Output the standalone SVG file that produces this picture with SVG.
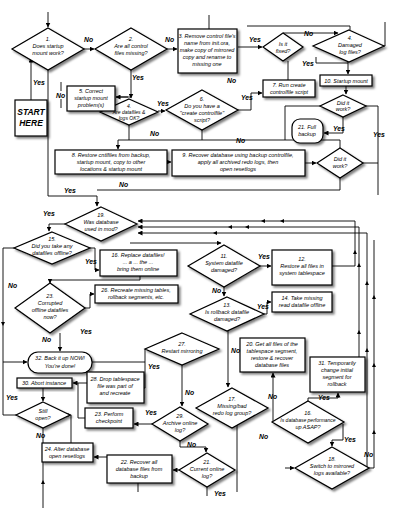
<svg xmlns="http://www.w3.org/2000/svg" width="400" height="513" viewBox="0 0 400 513">
<defs>
<filter id="sh" x="-20%" y="-20%" width="150%" height="160%"><feDropShadow dx="2" dy="2" stdDeviation="0.8" flood-color="#000" flood-opacity="0.5"/></filter>
<marker id="ah" markerWidth="5" markerHeight="5" refX="4.5" refY="2.5" orient="auto" markerUnits="userSpaceOnUse"><path d="M0,0 L5,2.5 L0,5 z" fill="#000"/></marker>
<style>
.n{fill:#fff;stroke:#000;stroke-width:1.2;filter:url(#sh)}
.t{font-family:"Liberation Sans Narrow","Liberation Sans",sans-serif;font-style:italic;font-size:5.5px;text-anchor:middle;fill:#000}
.s{font-size:5px}
.l{font-family:"Liberation Sans",sans-serif;font-style:italic;font-weight:bold;font-size:6.8px;fill:#000}
.c{fill:none;stroke:#000;stroke-width:0.9}
.a{marker-end:url(#ah)}
.tri{fill:#000}
.sb{font-family:"Liberation Sans",sans-serif;font-style:italic;font-weight:bold;font-size:8.5px;text-anchor:middle}
</style>
</defs>
<rect width="400" height="513" fill="#fff"/>
<g id="connectors">
<path class="c a" d="M48 12 V27"/>
<path class="c a" d="M84 49 H94"/>
<path class="c a" d="M167 49 H177"/>
<path class="c" d="M209 15 V29"/>
<path class="c" d="M247 26 H350 V30"/>
<path class="c a" d="M238 47 H262"/>
<path class="c a" d="M283 33 H338"/>
<path class="c" d="M383 46 H385 V22"/>
<path class="c a" d="M348 62 V74"/>
<path class="c" d="M316 57 V63 H348"/>
<path class="c a" d="M346 86 V94"/>
<path class="c" d="M288 61 V80"/>
<path class="c" d="M320 106 H285 V140"/>
<path class="c" d="M366 106 H378 V195"/>
<path class="c a" d="M343 117 V133 H324"/>
<path class="c" d="M131 70 V97 H116"/>
<path class="c a" d="M131 97 V98"/>
<path class="c a" d="M128 97 H116"/>
<path class="c" d="M61 82 V91 M61 99 V108"/>
<path class="c" d="M48 70 V196 H97"/>
<path class="c a" d="M97 196 V206"/>
<path class="c a" d="M31 100 V58"/>
<path class="c a" d="M158 111 H165"/>
<path class="c a" d="M238 110 H251 V93 H262"/>
<path class="c" d="M202 130 V140"/>
<path class="c" d="M129 125 V140"/>
<path class="c a" d="M340 148 V140 H118 V149"/>
<path class="c a" d="M167 162 H171"/>
<path class="c a" d="M305 163 H316"/>
<path class="c" d="M363 163 H378"/>
<path class="c" d="M340 178 V190 H97"/>
<path class="c a" d="M65 224 H49 V231"/>
<path class="c a" d="M332 266 H355 V221 H138"/>
<path class="c a" d="M359 357 V227 H138"/>
<path class="c a" d="M367 470 V233 H138"/>
<path class="c a" d="M130 243 H221"/>
<path class="c a" d="M90 248 H95 V270 H99"/>
<path class="c a" d="M14 248 H3 V362 H27"/>
<path class="c" d="M16 415 H3 V362"/>
<path class="c a" d="M140 276 V280 H50 V283"/>
<path class="c a" d="M85 308 H90 V294 H94"/>
<path class="c a" d="M260 266 H271"/>
<path class="c a" d="M224 287 V296"/>
<path class="c a" d="M264 314 H267 V302 H271"/>
<path class="c a" d="M228 331 V387"/>
<path class="c a" d="M60 333 V351"/>
<path class="c" d="M92 362 H145"/>
<path class="c a" d="M145 349 V388 H145"/>
<path class="c a" d="M182 365 V406"/>
<path class="c a" d="M87 383 H73"/>
<path class="c" d="M85 418 H78 V383"/>
<path class="c a" d="M43 388 V401"/>
<path class="c a" d="M71 443 V415 H71"/>
<path class="c a" d="M107 457 H94"/>
<path class="c" d="M43 428 V508"/>
<path class="c a" d="M152 424 H134"/>
<path class="c a" d="M180 441 V447 H206 V452"/>
<path class="c a" d="M179 470 H173"/>
<path class="c" d="M138 483 V492"/>
<path class="c" d="M207 487 V496"/>
<path class="c" d="M237 425 V492"/>
<path class="c a" d="M273 421 V373"/>
<path class="c a" d="M308 401 V398 H338 V393"/>
<path class="c a" d="M343 424 V440 H332 V446"/>
<path class="c a" d="M285 468 H294"/>
<path class="c" d="M369 468 H374 V240"/>
<path class="tri" d="M355 250 l-2 4 h4 z M359 263 l-2 4 h4 z M359 330 l-2 4 h4 z M367 281 l-2 4 h4 z M367 348 l-2 4 h4 z M374 295 l-2 4 h4 z M374 363 l-2 4 h4 z M374 430 l-2 4 h4 z"/>
<path class="tri" d="M228 227 l4 -2 v4 z M245 227 l4 -2 v4 z M261 221 l4 -2 v4 z M280 221 l4 -2 v4 z M213 233 l4 -2 v4 z M3 326 l-2 -4 h4 z M43 480 l-2 4 h4 z"/>
</g>
<g id="n1"><path class="n" d="M48 28 L84 49 L48 70 L12 49 Z"/><text class="t" x="48" y="41">1.</text><text class="t" x="48" y="48">Does startup</text><text class="t" x="48" y="55">mount work?</text></g>
<g id="n2"><path class="n" d="M131 28 L167 49 L131 70 L95 49 Z"/><text class="t" x="131" y="41">2.</text><text class="t" x="131" y="48">Are all control</text><text class="t" x="131" y="55">files missing?</text></g>
<g id="n3"><rect class="n" x="178" y="29" width="59" height="44"/><text class="t" x="207" y="38">3. Remove control file's</text><text class="t" x="207" y="45">name from init.ora,</text><text class="t" x="207" y="52">make copy of mirrored</text><text class="t" x="207" y="59">copy and rename to</text><text class="t" x="207" y="66">missing one</text></g>
<g id="n5q"><path class="n" d="M283 33 L303 47 L283 61 L263 47 Z"/><text class="t" x="283" y="46">Is it</text><text class="t" x="283" y="53">fixed?</text></g>
<g id="n4"><path class="n" d="M349 30 L384 46 L349 62 L313 46 Z"/><text class="t" x="350" y="40">4.</text><text class="t" x="350" y="47">Damaged</text><text class="t" x="350" y="54">log files?</text></g>
<g id="n10b"><rect class="n" x="320" y="75" width="52" height="11"/><text class="t" x="346" y="82.5">10. Startup mount</text></g>
<g id="n7"><rect class="n" x="263" y="80" width="52" height="17"/><text class="t" x="289" y="87">7. Run create</text><text class="t" x="289" y="94">controlfile script</text></g>
<g id="nok"><path class="n" d="M343 95 L366 106 L343 117 L320 106 Z"/><text class="t" x="343" y="105">Did it</text><text class="t" x="343" y="111">work?</text></g>
<g id="n21"><rect class="n" x="292" y="119" width="31" height="24" rx="8"/><text class="t" x="307" y="129">21. Full</text><text class="t" x="307" y="136">backup</text></g>
<g id="n6"><path class="n" d="M202 90 L238 110 L202 130 L166 110 Z"/><text class="t" x="202" y="101">6.</text><text class="t" x="202" y="108">Do you have a</text><text class="t" x="202" y="115">"create controlfile"</text><text class="t" x="202" y="122">script?</text></g>
<g id="n4b"><path class="n" d="M129 99 L158 112 L129 125 L100 112 Z"/><text class="t s" x="129" y="108">4.</text><text class="t s" x="129" y="114">Are datafiles &amp;</text><text class="t s" x="129" y="120">logs OK?</text></g>
<g id="n5"><rect class="n" x="67" y="86" width="48" height="25"/><text class="t" x="91" y="93">5. Correct</text><text class="t" x="91" y="100">startup mount</text><text class="t" x="91" y="107">problem(s)</text></g>
<g id="start"><rect class="n" x="15" y="100" width="32" height="36"/><text class="sb" x="31" y="115">START</text><text class="sb" x="31" y="126">HERE</text></g>
<g id="n8"><rect class="n" x="55" y="150" width="112" height="24"/><text class="t" x="111" y="157">8. Restore cntlfiles from backup,</text><text class="t" x="111" y="164">startup mount, copy to other</text><text class="t" x="111" y="171">locations &amp; startup mount</text></g>
<g id="n9"><rect class="n" x="172" y="150" width="133" height="26"/><text class="t" x="238" y="157">9. Recover database using backup controlfile,</text><text class="t" x="238" y="164">apply all archived redo logs, then</text><text class="t" x="238" y="171">open resetlogs</text></g>
<g id="n10"><path class="n" d="M340 148 L363 163 L340 178 L317 163 Z"/><text class="t" x="340" y="161">Did it</text><text class="t" x="340" y="168">work?</text></g>
<g id="n19"><path class="n" d="M101 207 L137 224 L101 241 L65 224 Z"/><text class="t" x="101" y="217">19.</text><text class="t" x="101" y="224">Was database</text><text class="t" x="101" y="231">used in mod?</text></g>
<g id="n15"><path class="n" d="M52 232 L90 248 L52 264 L14 248 Z"/><text class="t" x="52" y="241">15.</text><text class="t" x="52" y="248">Did you take any</text><text class="t" x="52" y="255">datafiles offline?</text></g>
<g id="n16"><rect class="n" x="100" y="250" width="77" height="26"/><text class="t" x="138" y="257">16. Replace datafiles!</text><text class="t" x="138" y="264">... a ... the ...</text><text class="t" x="138" y="271">bring them online</text></g>
<g id="n11"><path class="n" d="M224 245 L260 266 L224 287 L188 266 Z"/><text class="t" x="224" y="258">11.</text><text class="t" x="224" y="265">System datafile</text><text class="t" x="224" y="272">damaged?</text></g>
<g id="n12"><rect class="n" x="272" y="250" width="60" height="35"/><text class="t" x="302" y="261">12.</text><text class="t" x="302" y="268">Restore all files in</text><text class="t" x="302" y="275">system tablespace</text></g>
<g id="n26"><rect class="n" x="95" y="285" width="83" height="18"/><text class="t" x="136" y="292">26. Recreate missing tables,</text><text class="t" x="136" y="299">rollback segments, etc.</text></g>
<g id="n13"><path class="n" d="M227 297 L264 314 L227 331 L190 314 Z"/><text class="t" x="227" y="307">13.</text><text class="t" x="227" y="314">Is rollback datafile</text><text class="t" x="227" y="321">damaged?</text></g>
<g id="n14"><rect class="n" x="272" y="292" width="60" height="20"/><text class="t" x="302" y="300">14. Take missing</text><text class="t" x="302" y="307">read datafile offline</text></g>
<g id="n23"><path class="n" d="M50 283 L85 308 L50 333 L15 308 Z"/><text class="t" x="50" y="298">23.</text><text class="t" x="50" y="305">Corrupted</text><text class="t" x="50" y="312">offline datafiles</text><text class="t" x="50" y="319">now?</text></g>
<g id="n27"><path class="n" d="M182 333 L219 349 L182 365 L145 349 Z"/><text class="t" x="182" y="346">27.</text><text class="t" x="182" y="353">Restart mirroring</text></g>
<g id="n20"><rect class="n" x="240" y="338" width="65" height="34"/><text class="t" x="272" y="346">20. Get all files of the</text><text class="t" x="272" y="353">tablespace segment,</text><text class="t" x="272" y="360">restore &amp; recover</text><text class="t" x="272" y="367">database files</text></g>
<g id="n31"><rect class="n" x="310" y="357" width="55" height="35"/><text class="t" x="337" y="365">31. Temporarily</text><text class="t" x="337" y="372">change initial</text><text class="t" x="337" y="379">segment for</text><text class="t" x="337" y="386">rollback</text></g>
<g id="n32"><rect class="n" x="28" y="352" width="64" height="21" rx="10"/><text class="t" x="60" y="360">32. Back it up NOW!</text><text class="t" x="60" y="368">You're done!</text></g>
<g id="n28"><rect class="n" x="87" y="372" width="57" height="31"/><text class="t" x="115" y="381">28. Drop tablespace</text><text class="t" x="115" y="388">file was part of</text><text class="t" x="115" y="395">and recreate</text></g>
<g id="n30"><rect class="n" x="17" y="378" width="55" height="10"/><text class="t" x="44" y="385">30. Abort instance</text></g>
<g id="n25"><path class="n" d="M43 402 L70 415 L43 428 L16 415 Z"/><text class="t" x="43" y="413">Still</text><text class="t" x="43" y="420">open?</text></g>
<g id="n23b"><rect class="n" x="85" y="408" width="48" height="20"/><text class="t" x="109" y="416">23. Perform</text><text class="t" x="109" y="423">checkpoint</text></g>
<g id="n29"><path class="n" d="M180 407 L208 424 L180 441 L152 424 Z"/><text class="t" x="180" y="418">29.</text><text class="t" x="180" y="425">Archive online</text><text class="t" x="180" y="432">log?</text></g>
<g id="n17"><path class="n" d="M232 388 L268 408 L232 428 L196 408 Z"/><text class="t" x="232" y="401">17.</text><text class="t" x="232" y="408">Missing/bad</text><text class="t" x="232" y="415">redo log group?</text></g>
<g id="n16b"><path class="n" d="M308 401 L344 422 L308 443 L272 422 Z"/><text class="t" x="308" y="415">16.</text><text class="t s" x="308" y="422">Is database performance</text><text class="t" x="308" y="429">up ASAP?</text></g>
<g id="n24"><rect class="n" x="42" y="443" width="51" height="19"/><text class="t" x="67" y="451">24. Alter database</text><text class="t" x="67" y="458">open resetlogs</text></g>
<g id="n22"><rect class="n" x="107" y="455" width="65" height="28"/><text class="t" x="139" y="464">22. Recover all</text><text class="t" x="139" y="471">database files from</text><text class="t" x="139" y="478">backup</text></g>
<g id="n21b"><path class="n" d="M207 453 L235 470 L207 487 L179 470 Z"/><text class="t" x="207" y="464">21.</text><text class="t" x="207" y="471">Current online</text><text class="t" x="207" y="478">log?</text></g>
<g id="n18"><path class="n" d="M332 447 L369 468 L332 489 L295 468 Z"/><text class="t" x="332" y="461">18.</text><text class="t" x="332" y="468">Switch to mirrored</text><text class="t" x="332" y="475">logs available?</text></g>
<g id="labels">
<text class="l" x="84" y="42">No</text>
<text class="l" x="165" y="42">No</text>
<text class="l" x="249" y="42">Yes</text>
<text class="l" x="304" y="36">No</text>
<text class="l" x="302" y="66">Yes</text>
<text class="l" x="33" y="85">Yes</text>
<text class="l" x="56" y="97.5">No</text>
<text class="l" x="132" y="80">Yes</text>
<text class="l" x="157" y="106">Yes</text>
<text class="l" x="227" y="83">No</text>
<text class="l" x="241" y="100">Yes</text>
<text class="l" x="333" y="131">Yes</text>
<text class="l" x="373" y="137">Yes</text>
<text class="l" x="150" y="136">No</text>
<text class="l" x="236" y="143">No</text>
<text class="l" x="64" y="193">Yes</text>
<text class="l" x="119" y="187">No</text>
<text class="l" x="43" y="216">Yes</text>
<text class="l" x="85" y="264">Yes</text>
<text class="l" x="8" y="288">No</text>
<text class="l" x="258" y="259">Yes</text>
<text class="l" x="212" y="293">No</text>
<text class="l" x="257" y="309">Yes</text>
<text class="l" x="231" y="353">No</text>
<text class="l" x="80" y="334">Yes</text>
<text class="l" x="42" y="342">No</text>
<text class="l" x="148" y="369">Yes</text>
<text class="l" x="6" y="400">Yes</text>
<text class="l" x="36" y="438">No</text>
<text class="l" x="145" y="415">Yes</text>
<text class="l" x="187" y="447">No</text>
<text class="l" x="185" y="395">No</text>
<text class="l" x="214" y="496">Yes</text>
<text class="l" x="268" y="399">No</text>
<text class="l" x="259" y="439">No</text>
<text class="l" x="318" y="400">Yes</text>
<text class="l" x="344" y="442">Yes</text>
<text class="l" x="364" y="457">No</text>
</g>
</svg>
